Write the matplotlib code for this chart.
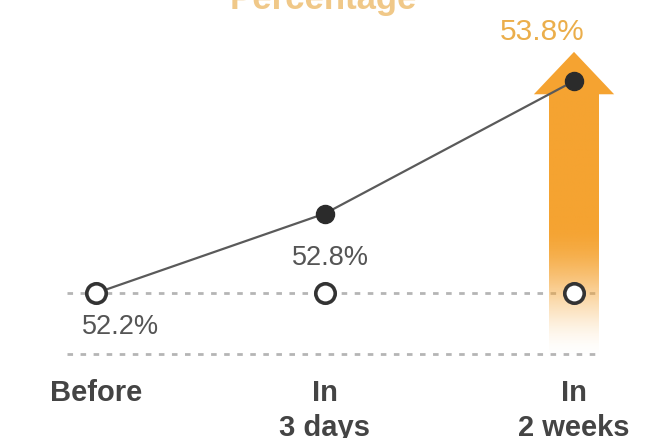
import numpy as np
import matplotlib.pyplot as plt
from matplotlib.patches import Polygon

# donnees du graphique
periodes = ["Before", "In\n3 days", "In\n2 weeks"]
valeurs = [52.2, 52.8, 53.8]
etiquettes = ["52.2%", "52.8%", "53.8%"]
base = 52.2
titre = "Percentage"

plt.rcParams["font.family"] = ["Liberation Sans", "DejaVu Sans"]

# mise en page (positions des categories sur l'axe x)
xpos = [0, 0.958, 2]
orange = "#F5A331"
gris = "#5A5A5A"

fig = plt.figure(figsize=(6.54, 4.39), dpi=100)
ax = fig.add_axes([0, 0, 1, 1])
ax.set_xlim(-0.4017, 2.3347)
ax.set_ylim(51.106, 54.419)
ax.axis("off")

# lignes pointillees
ax.plot([-0.12, 2.11], [base, base], color="#B5B5B5", lw=2,
        ls=(0, (2, 2.7)), zorder=1)
ax.plot([-0.12, 2.11], [51.74, 51.74], color="#B5B5B5", lw=2,
        ls=(0, (2, 2.7)), zorder=1)

# fleche orange avec degrade
x_fleche = xpos[2]
demi_tige = 0.103
demi_tete = 0.168
y_tete = 53.70
y_pointe = 54.02
y_bas = 51.70
n = 300
grad = np.zeros((n, 1, 4))
grad[:, 0, :3] = np.array([0xF5, 0xA3, 0x31]) / 255
t = np.clip(np.linspace(0, 1, n) / 0.5, 0, 1)  # 0 en bas, 1 en haut
grad[:, 0, 3] = t * t * (3 - 2 * t)
ax.imshow(grad, extent=[x_fleche - demi_tige, x_fleche + demi_tige, y_bas, y_tete + 0.02],
          origin="lower", aspect="auto", interpolation="bilinear", zorder=2)
tete = Polygon([[x_fleche - demi_tete, y_tete], [x_fleche + demi_tete, y_tete],
                [x_fleche, y_pointe]], closed=True, color=orange, lw=0, zorder=2)
ax.add_patch(tete)

# courbe
ax.plot(xpos, valeurs, color=gris, lw=1.6, zorder=3)
ax.plot(xpos, [base] * 3, ls="none", marker="o", ms=14, mfc="white",
        mec="#333333", mew=2.6, zorder=4)
ax.plot(xpos[1:], valeurs[1:], ls="none", marker="o", ms=13, mfc="#2B2B2B",
        mec="#2B2B2B", zorder=4)

# etiquettes des valeurs
ax.annotate(etiquettes[0], (xpos[0], valeurs[0]), xytext=(18, -24),
            textcoords="offset points", ha="center", va="center",
            fontsize=19.5, color="#555555")
ax.annotate(etiquettes[1], (xpos[1], valeurs[1]), xytext=(4, -31),
            textcoords="offset points", ha="center", va="center",
            fontsize=19.5, color="#555555")
ax.annotate(etiquettes[2], (xpos[2], valeurs[2]), xytext=(-23, 36),
            textcoords="offset points", ha="center", va="center",
            fontsize=21.5, color="#EBAE4B")

# titre coupe en haut
ax.text(0.495, 0.98, titre, transform=ax.transAxes, ha="center", va="baseline",
        fontsize=25, fontweight="bold", color="#F0C888")

# etiquettes de l'axe x
for x, p in zip(xpos, periodes):
    ax.text(x, 0.136, p, transform=ax.get_xaxis_transform(), ha="center",
            va="top", fontsize=21, fontweight="bold", color="#444444",
            linespacing=1.3)

fig.savefig("out.png", dpi=100)
